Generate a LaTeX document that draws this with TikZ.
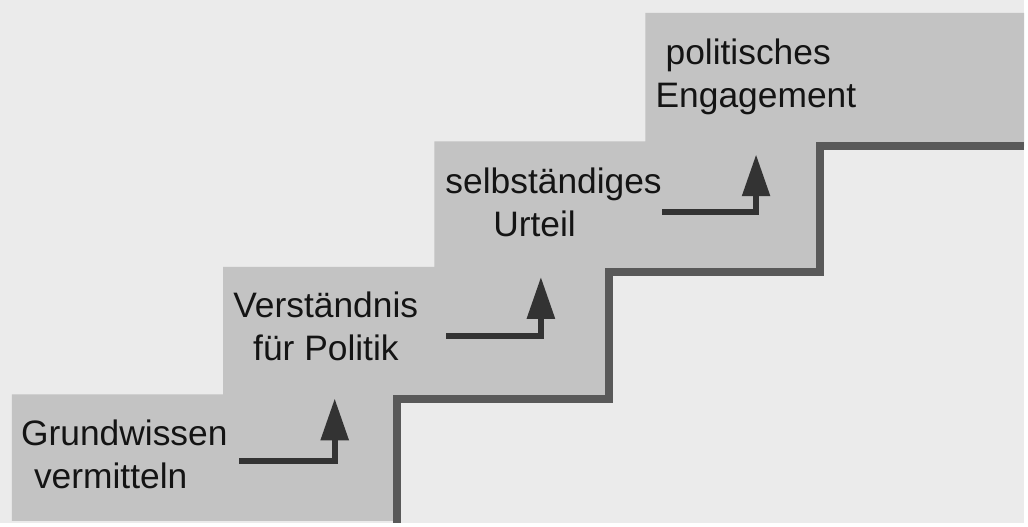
\documentclass[tikz,border=0pt]{standalone}
\usepackage{fontspec}
\setmainfont{Liberation Sans}
\usetikzlibrary{arrows.meta}
\tikzset{>={Triangle[length=42pt,width=27pt]}}

\definecolor{bggray}{HTML}{EBEBEB}
\definecolor{stepgray}{HTML}{C3C3C3}
\definecolor{edgegray}{HTML}{595959}
\definecolor{arrowgray}{HTML}{333333}

\begin{document}
\begin{tikzpicture}[x=1pt,y=-1pt,
    stair/.style={anchor=base west, inner sep=0pt, align=left, text=black!92,
      font=\fontsize{35.5}{43}\selectfont},
    up/.style={->, line width=6pt, draw=arrowgray}]
  \fill[bggray] (0,0) rectangle (1028,525);
  % the steps
  \fill[stepgray] (12,523) -- (12,396) -- (224,396) -- (224,268) -- (436,268)
    -- (436,142) -- (648,142) -- (648,13) -- (1028,13) -- (1028,147)
    -- (823,147) -- (823,273) -- (611,273) -- (611,401) -- (399,401)
    -- (399,523) -- cycle;
  \draw[edgegray, line width=8pt] (399,525) -- (399,401) -- (611,401)
    -- (611,273) -- (823,273) -- (823,147) -- (1028,147);
  % labels (base = last line)
  \node[stair] (s1) at (21,490) {Grundwissen\\\hspace*{13pt}vermitteln};
  \node[stair] (s2) at (234,362) {Verständnis\\\hspace*{20pt}für Politik};
  \node[stair] (s3) at (447,237) {selbständiges\\\hspace*{48pt}Urteil};
  \node[stair] (s4) at (658,108) {\hspace*{10pt}politisches\\Engagement};
  % arrows up to the next step
  \coordinate (a1) at (240,463); \coordinate (t1) at (336,400);
  \coordinate (a2) at (448,337); \coordinate (t2) at (543,278);
  \coordinate (a3) at (665,213); \coordinate (t3) at (759,155);
  \draw[up] (a1) -| (t1);
  \draw[up] (a2) -| (t2);
  \draw[up] (a3) -| (t3);
\end{tikzpicture}
\end{document}
